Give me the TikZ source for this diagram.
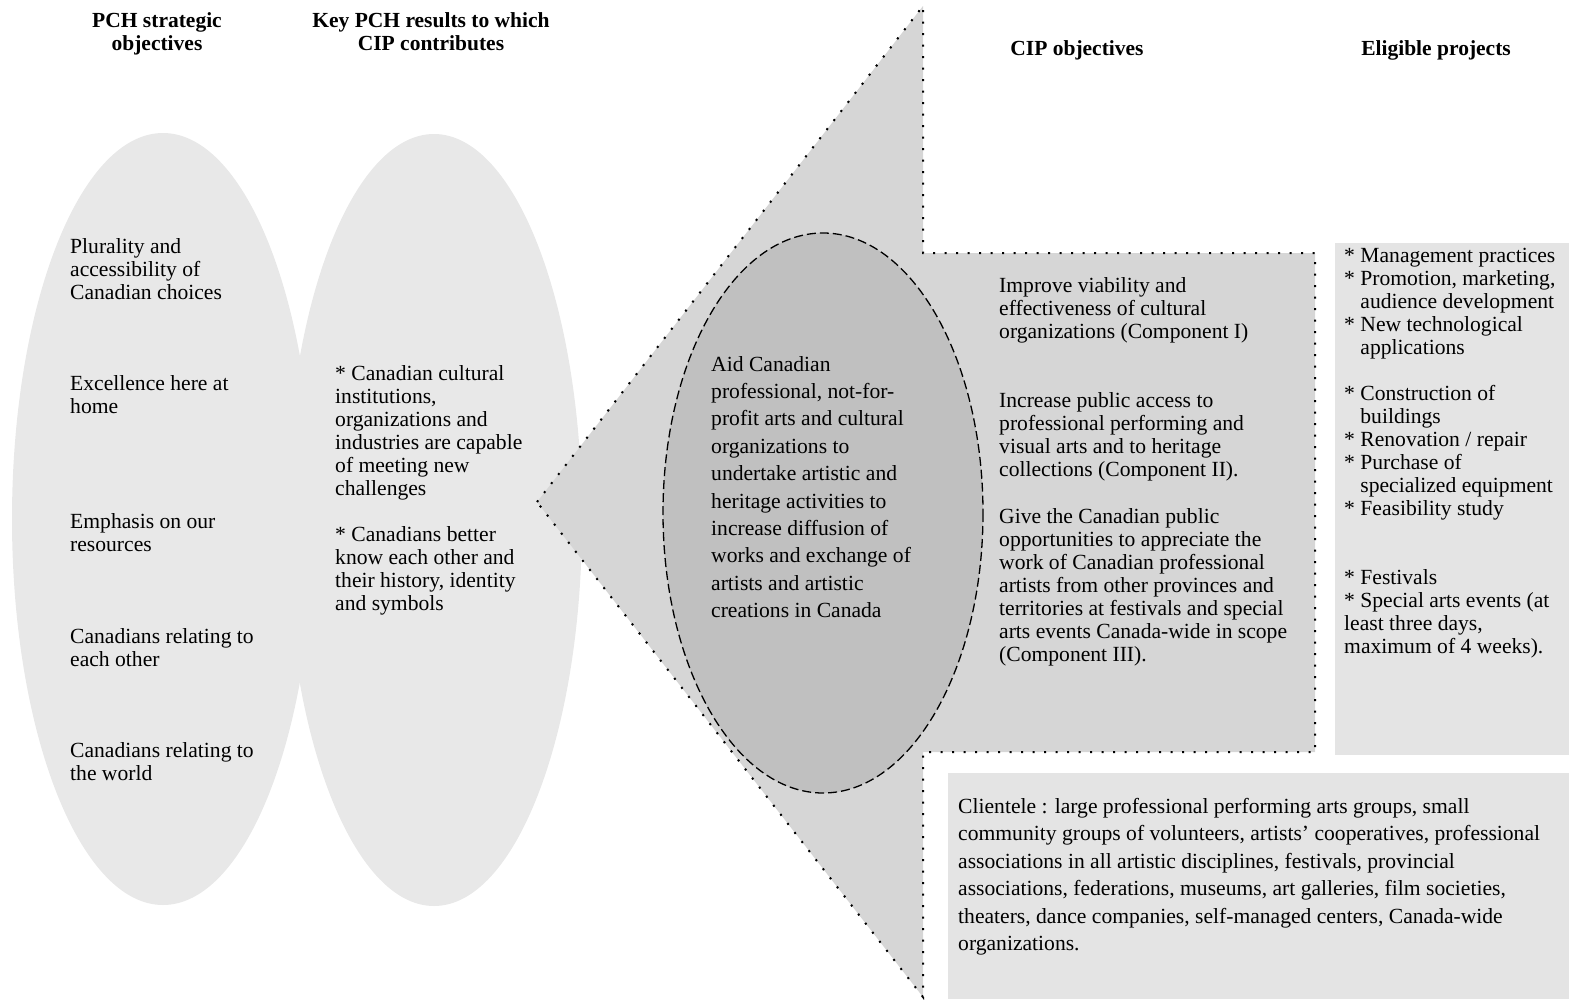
\documentclass[tikz,border=0pt]{standalone}
\usepackage{fontspec}
\setmainfont{Liberation Serif}
\usetikzlibrary{positioning}
\definecolor{ovalgray}{HTML}{E8E8E8}
\definecolor{arrowgray}{HTML}{D6D6D6}
\definecolor{aidgray}{HTML}{C0C0C0}
\definecolor{dotgray}{HTML}{E4E4E4}

\begin{document}
\begin{tikzpicture}[x=1pt,y=-1pt,
    txt/.style={anchor=north west, inner sep=0pt, align=left, font=\fontsize{21.6}{23}\selectfont},
    widetxt/.style={txt, font=\fontsize{21.6}{27.4}\selectfont},
    head/.style={anchor=north, inner sep=0pt, align=center, font=\fontsize{21.5}{23}\selectfont\bfseries},
    dotline/.style={line width=2pt, dash pattern=on 2pt off 9.5pt},
    dashline/.style={line width=1.3pt, dash pattern=on 9pt off 4pt}]
    \useasboundingbox (0,0) rectangle (1569,999);
    % the two PCH ovals
    \fill[ovalgray] (163,519) ellipse [x radius=151, y radius=386];
    \fill[ovalgray] (434,520) ellipse [x radius=148, y radius=386];
    % the CIP arrow and the aid oval
    \filldraw[fill=arrowgray, draw=black, dotline] (537,502) -- (923,6) -- (923,253)
        -- (1315,253) -- (1315,752) -- (923,752) -- (923,997) -- cycle;
    \filldraw[fill=aidgray, draw=black, dashline] (823,513) ellipse [x radius=160, y radius=280];
    % the dotted boxes
    \fill[dotgray] (1335,243) rectangle (1569,755);
    \fill[dotgray] (948,773) rectangle (1569,999);

    \node[head] (hpch) at (157,12) {PCH strategic\\objectives};
    \node[head] (hkey) at (431,12) {Key PCH results to which\\CIP contributes};
    \node[head] (hcip) at (1077,40) {CIP objectives};
    \node[head] (helig) at (1436,40) {Eligible projects};

    \node[txt] (plur) at (70,238) {Plurality and\\accessibility of\\Canadian choices};
    \node[txt] (excel) at (70,375) {Excellence here at\\home};
    \node[txt] (emph) at (70,513) {Emphasis on our\\resources};
    \node[txt] (other) at (70,628) {Canadians relating to\\each other};
    \node[txt] (world) at (70,742) {Canadians relating to\\the world};

    \node[txt] (results) at (335,365) {* Canadian cultural\\institutions,\\organizations and\\industries are capable\\of meeting new\\challenges\\[23pt]* Canadians better\\know each other and\\their history, identity\\and symbols};

    \node[widetxt] (aid) at (711,356) {Aid Canadian\\professional, not-for-\\profit arts and cultural\\organizations to\\undertake artistic and\\heritage activities to\\increase diffusion of\\works and exchange of\\artists and artistic\\creations in Canada};

    \node[txt] (comp1) at (999,277) {Improve viability and\\effectiveness of cultural\\organizations (Component I)};
    \node[txt] (comp2) at (999,392) {Increase public access to\\professional performing and\\visual arts and to heritage\\collections (Component II).};
    \node[txt] (comp3) at (999,508) {Give the Canadian public\\opportunities to appreciate the\\work of Canadian professional\\artists from other provinces and\\territories at festivals and special\\arts events Canada-wide in scope\\(Component III).};

    \node[txt] (projects) at (1344,248) {* Management practices\\* Promotion, marketing,\\\phantom{*\ }audience development\\* New technological\\\phantom{*\ }applications\\[23pt]* Construction of\\\phantom{*\ }buildings\\* Renovation / repair\\* Purchase of\\\phantom{*\ }specialized equipment\\* Feasibility study\\[46pt]* Festivals\\* Special arts events (at\\least three days,\\maximum of 4 weeks).};

    \node[widetxt] (clients) at (958,798) {Clientele : large professional performing arts groups, small\\community groups of volunteers, artists' cooperatives, professional\\associations in all artistic disciplines, festivals, provincial\\associations, federations, museums, art galleries, film societies,\\theaters, dance companies, self-managed centers, Canada-wide\\organizations.};
\end{tikzpicture}
\end{document}
